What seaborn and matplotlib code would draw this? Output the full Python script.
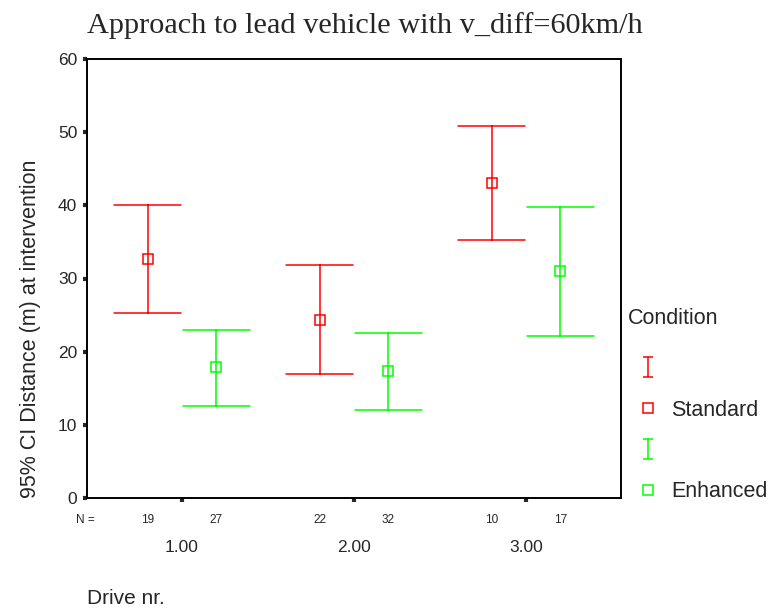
import pandas as pd
import seaborn as sns
import matplotlib.pyplot as plt
import matplotlib.transforms as mtransforms
from matplotlib.lines import Line2D
from matplotlib.path import Path

# values (mean and 95% CI bounds)
drives = ["1.00", "2.00", "3.00"]
conditions = ["Standard", "Enhanced"]
standard_mean = [32.7, 24.3, 43.0]
standard_lo = [25.3, 16.9, 35.2]
standard_hi = [40.0, 31.8, 50.9]
enhanced_mean = [17.9, 17.4, 31.0]
enhanced_lo = [12.6, 12.0, 22.1]
enhanced_hi = [22.9, 22.5, 39.8]
standard_n = [19, 22, 10]
enhanced_n = [27, 32, 17]
colors = ["#ff0000", "#00ff00"]

sns.set_style("white")
plt.rcParams["font.family"] = ["Liberation Sans", "DejaVu Sans"]

# long table: lo / mean / hi per group, median -> mean, 100% interval -> CI bounds
rows = []
for cond, lo, mid, hi in [("Standard", standard_lo, standard_mean, standard_hi),
                          ("Enhanced", enhanced_lo, enhanced_mean, enhanced_hi)]:
    for d, a, b, c in zip(drives, lo, mid, hi):
        for v in (a, b, c):
            rows.append({"drive": d, "condition": cond, "value": v})
df = pd.DataFrame(rows)

fig = plt.figure(figsize=(7.71, 6.15), dpi=100)
ax = fig.add_axes([87 / 771, 1 - 498 / 615, 534 / 771, 439 / 615])

dodge = 0.4
sns.pointplot(data=df, x="drive", y="value", hue="condition",
              order=drives, hue_order=conditions, palette=colors,
              estimator="median", errorbar=("pi", 100),
              dodge=dodge, capsize=0.39, linestyle="none",
              markers="s", markersize=7, markerfacecolor="none",
              markeredgewidth=1.1, err_kws={"linewidth": 1.1},
              legend=False, ax=ax)

ax.set_xlim(-0.552, 2.552)
ax.set_ylim(0, 60)
ax.set_yticks(range(0, 61, 10))
ax.set_xticks(range(len(drives)))
ax.set_xticklabels(drives)
for s in ax.spines.values():
    s.set_visible(True)
    s.set_color("black")
    s.set_linewidth(1.4)
ax.tick_params(axis="y", length=3, width=3, direction="out", pad=4,
               labelsize=12.5, left=True)
ax.tick_params(axis="x", length=3, width=3, direction="out", pad=27,
               labelsize=12.5, bottom=True)

# N counts under each point
trans = mtransforms.blended_transform_factory(ax.transData, ax.transAxes)
ax.text(-0.564, -0.05, "N =", transform=trans, ha="center", va="center", fontsize=8.5)
for i in range(len(drives)):
    ax.text(i - dodge / 2, -0.05, str(standard_n[i]), transform=trans,
            ha="center", va="center", fontsize=8.5)
    ax.text(i + dodge / 2, -0.05, str(enhanced_n[i]), transform=trans,
            ha="center", va="center", fontsize=8.5)

ax.set_xlabel("Drive nr.", loc="left", fontsize=15, labelpad=25)
ax.set_ylabel("95% CI Distance (m) at intervention", loc="bottom",
              fontsize=15.5, labelpad=12)
ax.set_title("Approach to lead vehicle with v_diff=60km/h", loc="left",
             fontsize=21.8, family=["Liberation Serif", "DejaVu Serif"], pad=18.5)

# legend: error-bar glyph row then marker row for each condition
ibar = Path([(-0.5, 1), (0.5, 1), (0, 1), (0, -1), (-0.5, -1), (0.5, -1)],
            [Path.MOVETO, Path.LINETO, Path.MOVETO, Path.LINETO, Path.MOVETO, Path.LINETO])
handles, labels = [], []
for cond, col in zip(conditions, colors):
    handles.append(Line2D([], [], linestyle="none", marker=ibar, markersize=15,
                          markerfacecolor="none", markeredgecolor=col, markeredgewidth=1.1))
    labels.append("")
    handles.append(Line2D([], [], linestyle="none", marker="s", markersize=7,
                          markerfacecolor="none", markeredgecolor=col, markeredgewidth=1.1))
    labels.append(cond)
fig.text(628 / 771, 1 - 319 / 615, "Condition", ha="left", va="center", fontsize=15.5)
fig.legend(handles, labels, loc="upper left",
           bbox_to_anchor=(626 / 771, 1 - 359 / 615), frameon=False,
           handlelength=2.0, handletextpad=0.1, labelspacing=0.92,
           fontsize=15.5, borderpad=0, borderaxespad=0)

fig.savefig("out.png", dpi=100)
